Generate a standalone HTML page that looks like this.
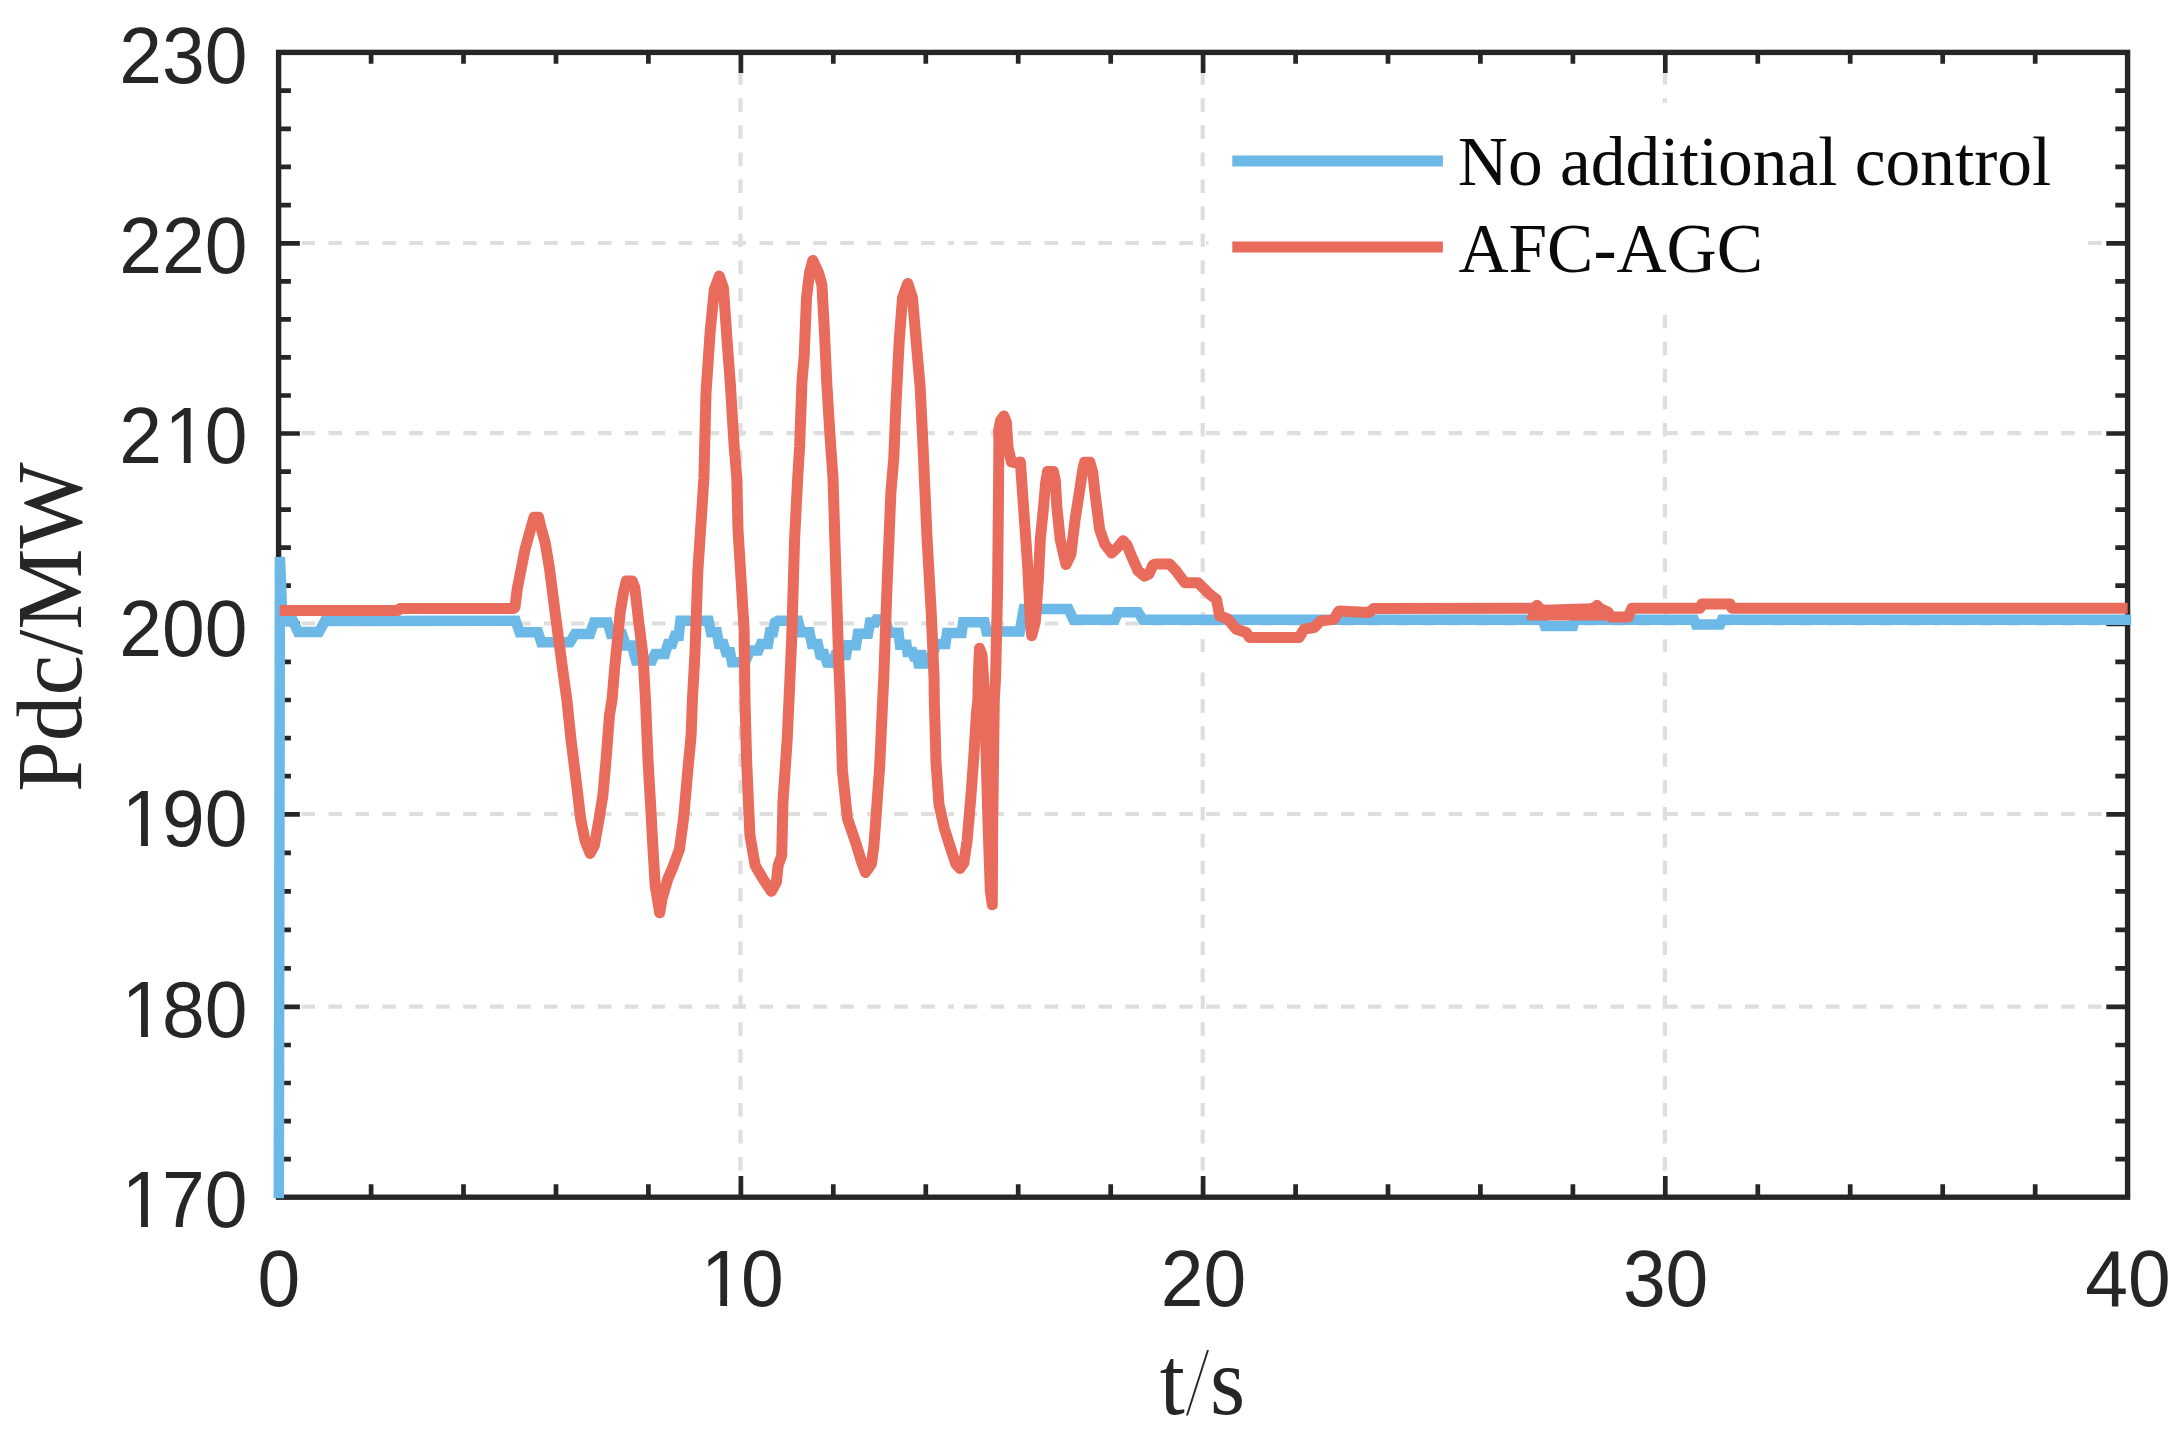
<!DOCTYPE html>
<html lang="en"><head><meta charset="utf-8"><title>Pdc/MW vs t/s</title>
<style>
html,body{margin:0;padding:0;background:#fff;}
body{width:2176px;height:1431px;overflow:hidden;}
svg{display:block;}
.tick{font-family:"Liberation Sans",Arial,Helvetica,sans-serif;font-size:76.8px;fill:#262626;}
.lab{font-family:"Liberation Serif","Times New Roman",Times,serif;font-size:93.6px;fill:#262626;}
.leg{font-family:"Liberation Serif","Times New Roman",Times,serif;font-size:69.4px;fill:#0a0a0a;}
</style></head><body>
<svg width="2176" height="1431" viewBox="0 0 2176 1431">
<defs><clipPath id="plot"><rect x="278.6" y="52.4" width="1849.0" height="1147.3999999999999"/></clipPath></defs>
<rect width="2176" height="1431" fill="#fff"/>

<g stroke="#dedede" stroke-width="4.2" fill="none" stroke-dasharray="13.5 13.44">
<path d="M278.6 1006.6H954" stroke-dashoffset="4.0"/><path d="M963.8 1006.6H1940.9"/><path d="M1953.4 1006.6H2127.6"/>
<path d="M278.6 814.0H954" stroke-dashoffset="4.0"/><path d="M963.8 814.0H1940.9"/><path d="M1953.4 814.0H2127.6"/>
<path d="M278.6 623.5H954" stroke-dashoffset="4.0"/><path d="M963.8 623.5H1940.9"/><path d="M1953.4 623.5H2127.6"/>
<path d="M278.6 433.2H954" stroke-dashoffset="4.0"/><path d="M963.8 433.2H1940.9"/><path d="M1953.4 433.2H2127.6"/>
<path d="M278.6 243.0H954" stroke-dashoffset="4.0"/><path d="M963.8 243.0H1940.9"/><path d="M1953.4 243.0H2127.6"/>
<path d="M740.5 52.4V652" stroke-dasharray="13.5 13.55" stroke-dashoffset="8.2"/><path d="M740.5 672.4V1197" stroke-dasharray="13.5 13.42"/>
<path d="M1202.7 52.4V652" stroke-dasharray="13.5 13.55" stroke-dashoffset="8.2"/><path d="M1202.7 672.4V1197" stroke-dasharray="13.5 13.42"/>
<path d="M1664.9 52.4V652" stroke-dasharray="13.5 13.55" stroke-dashoffset="8.2"/><path d="M1664.9 672.4V1197" stroke-dasharray="13.5 13.42"/>
</g>
<g stroke="#262626" fill="none">
<rect x="278.6" y="52.4" width="1849.0" height="1144.8" stroke-width="5.4"/>
<path d="M371.1 1197.2v-13.0M371.1 52.4v11.3M463.5 1197.2v-13.0M463.5 52.4v11.3M556.0 1197.2v-13.0M556.0 52.4v11.3M648.4 1197.2v-13.0M648.4 52.4v11.3M740.9 1197.2v-21.2M740.9 52.4v20.5M833.3 1197.2v-13.0M833.3 52.4v11.3M925.8 1197.2v-13.0M925.8 52.4v11.3M1018.2 1197.2v-13.0M1018.2 52.4v11.3M1110.7 1197.2v-13.0M1110.7 52.4v11.3M1203.1 1197.2v-21.2M1203.1 52.4v20.5M1295.6 1197.2v-13.0M1295.6 52.4v11.3M1388.0 1197.2v-13.0M1388.0 52.4v11.3M1480.4 1197.2v-13.0M1480.4 52.4v11.3M1572.9 1197.2v-13.0M1572.9 52.4v11.3M1665.3 1197.2v-21.2M1665.3 52.4v20.5M1757.8 1197.2v-13.0M1757.8 52.4v11.3M1850.2 1197.2v-13.0M1850.2 52.4v11.3M1942.7 1197.2v-13.0M1942.7 52.4v11.3M2035.2 1197.2v-13.0M2035.2 52.4v11.3M278.6 1159.1h12.3M2127.6 1159.1h-12.3M278.6 1121.1h12.3M2127.6 1121.1h-12.3M278.6 1083.0h12.3M2127.6 1083.0h-12.3M278.6 1045.0h12.3M2127.6 1045.0h-12.3M278.6 1006.9h21.3M2127.6 1006.9h-21.3M278.6 968.4h12.3M2127.6 968.4h-12.3M278.6 929.9h12.3M2127.6 929.9h-12.3M278.6 891.3h12.3M2127.6 891.3h-12.3M278.6 852.8h12.3M2127.6 852.8h-12.3M278.6 814.3h21.3M2127.6 814.3h-21.3M278.6 776.2h12.3M2127.6 776.2h-12.3M278.6 738.1h12.3M2127.6 738.1h-12.3M278.6 700.0h12.3M2127.6 700.0h-12.3M278.6 661.9h12.3M2127.6 661.9h-12.3M278.6 623.8h21.3M2127.6 623.8h-21.3M278.6 585.7h12.3M2127.6 585.7h-12.3M278.6 547.7h12.3M2127.6 547.7h-12.3M278.6 509.6h12.3M2127.6 509.6h-12.3M278.6 471.6h12.3M2127.6 471.6h-12.3M278.6 433.5h21.3M2127.6 433.5h-21.3M278.6 395.5h12.3M2127.6 395.5h-12.3M278.6 357.4h12.3M2127.6 357.4h-12.3M278.6 319.4h12.3M2127.6 319.4h-12.3M278.6 281.3h12.3M2127.6 281.3h-12.3M278.6 243.3h21.3M2127.6 243.3h-21.3M278.6 205.1h12.3M2127.6 205.1h-12.3M278.6 166.9h12.3M2127.6 166.9h-12.3M278.6 128.8h12.3M2127.6 128.8h-12.3M278.6 90.6h12.3M2127.6 90.6h-12.3" stroke-width="4.7"/>
</g>
<polyline points="278.8,1198.2 279.9,557.0 281.3,590.0 282.3,621.0 293.0,621.0 298.0,632.0 319.0,632.0 325.0,621.0 515.6,620.8 519.7,632.3 538.0,632.3 541.3,642.3 570.0,642.3 575.0,634.0 590.0,634.0 594.0,622.4 607.5,622.4 611.0,634.0 622.0,634.0 626.0,645.6 632.0,645.6 636.0,660.5 652.0,660.5 655.0,653.9 665.0,653.9 668.0,644.0 672.0,644.0 675.0,635.7 678.7,635.7 680.4,620.8 708.5,620.8 711.0,632.3 716.8,632.3 719.0,644.0 723.4,644.0 726.0,652.2 730.0,652.2 732.0,662.2 745.0,662.2 750.0,650.6 758.2,650.6 761.0,644.0 768.0,644.0 770.0,632.3 773.0,632.3 775.0,622.4 778.0,620.8 798.0,620.8 801.0,632.3 809.5,632.3 812.0,644.0 817.8,644.0 820.0,653.9 824.0,653.9 827.0,662.6 833.0,663.0 835.5,655.0 846.0,655.0 848.0,645.3 856.0,645.3 858.0,633.7 868.0,633.7 870.0,622.6 875.2,622.6 876.6,619.6 883.0,619.6 886.0,622.0 889.0,632.7 898.5,632.7 900.0,644.8 906.5,644.8 907.5,651.9 912.5,651.9 914.0,656.5 917.0,656.5 918.5,663.4 927.5,663.4 930.0,657.0 933.0,654.0 936.3,644.1 945.4,644.1 947.0,633.0 961.6,633.0 963.2,622.2 984.5,622.2 986.5,631.4 1019.8,631.4 1023.7,608.9 1068.4,608.9 1073.4,619.7 1114.8,619.7 1118.1,612.2 1138.0,612.2 1143.0,619.7 1543.0,619.7 1545.0,626.0 1573.0,626.0 1575.0,619.7 1694.0,619.7 1696.0,624.5 1720.0,624.5 1722.0,619.7 2131.2,619.7" stroke="#6cb8e6" stroke-width="10.5" stroke-linejoin="miter" stroke-miterlimit="3" fill="none"/>
<path d="M915 655H926.5M817.5 655H826" stroke="#6cb8e6" stroke-width="10.5"/>
<g clip-path="url(#plot)" fill="none" stroke-linejoin="round" stroke-linecap="butt">
<polyline points="279.6,610.5 398.0,610.5 400.0,608.4 514.0,608.4 515.0,607.0 517.3,588.5 525.0,549.5 531.5,526.0 534.0,517.3 538.6,517.3 540.3,525.0 545.4,543.8 549.5,568.6 556.2,620.8 562.8,670.4 566.9,700.0 571.1,740.6 575.7,777.0 580.7,819.2 585.1,840.8 590.1,853.5 594.3,845.7 598.9,820.0 602.9,795.2 606.2,758.0 609.5,714.9 612.0,700.0 615.0,664.6 620.4,610.8 623.8,591.0 626.3,581.0 632.3,581.0 634.8,587.6 638.6,620.8 643.1,656.4 645.5,700.0 648.1,762.1 650.6,805.1 653.0,849.0 655.2,885.5 659.7,912.8 662.1,898.7 667.9,878.8 672.9,867.2 679.5,849.0 683.7,817.6 687.8,770.4 691.1,735.6 692.4,700.0 694.9,654.7 697.8,571.9 702.2,504.8 703.9,478.0 706.0,393.2 710.2,331.1 714.3,289.7 719.3,276.1 723.4,288.0 727.6,347.6 730.4,384.9 734.2,447.0 736.8,478.0 738.0,529.7 744.1,629.0 745.0,700.0 746.6,760.4 749.9,835.0 755.2,865.6 764.0,880.5 771.4,891.3 776.4,882.1 778.1,865.6 781.7,855.7 783.0,801.0 787.2,739.7 789.0,700.0 791.6,641.4 794.6,538.8 797.7,478.0 799.6,447.0 802.0,380.7 804.2,355.9 806.5,298.0 809.5,273.0 812.8,260.4 818.6,273.0 821.9,284.7 824.4,331.0 826.9,384.9 830.2,438.7 833.0,478.0 835.5,560.0 839.0,670.0 840.3,700.0 842.4,770.4 847.4,818.4 854.8,839.9 861.5,861.5 865.6,872.5 871.4,863.9 873.9,845.7 875.5,824.2 879.7,766.2 882.7,700.0 883.8,677.0 887.1,584.9 890.9,492.2 893.8,458.0 895.9,405.6 899.2,341.0 902.5,298.0 907.8,283.5 912.5,298.0 915.3,331.1 920.2,387.4 923.0,446.0 926.9,535.2 931.3,613.9 934.0,677.0 934.3,700.0 936.0,762.1 939.0,804.3 944.3,828.3 950.9,849.0 955.8,863.9 960.0,868.4 963.8,863.1 967.1,840.8 970.8,797.7 973.7,758.0 976.5,712.4 977.9,700.0 978.3,677.0 979.5,648.3 982.0,655.0 983.5,677.0 985.3,724.8 987.8,815.9 990.3,890.4 992.3,904.8 992.6,832.5 994.3,700.0 995.6,677.0 997.6,589.0 998.6,481.4 998.9,440.0 998.6,430.4 1000.6,420.5 1003.9,416.0 1006.4,422.1 1008.0,447.0 1011.3,461.9 1016.0,463.0 1020.4,462.0 1023.7,509.5 1027.9,569.2 1030.4,622.2 1031.7,635.7 1035.3,622.2 1038.3,580.8 1040.3,539.4 1043.6,506.2 1045.6,483.0 1047.6,471.5 1053.4,471.5 1055.4,481.0 1056.8,506.2 1060.2,539.4 1066.0,564.5 1070.9,554.3 1075.1,519.5 1080.0,488.0 1082.6,470.5 1084.5,462.3 1090.0,462.3 1092.8,473.1 1095.0,493.0 1099.6,529.4 1104.9,544.3 1111.5,553.0 1117.0,548.0 1123.1,540.7 1127.0,545.0 1131.4,555.9 1138.0,570.8 1144.6,576.1 1149.0,574.0 1153.0,565.0 1156.0,563.9 1169.4,563.9 1176.0,570.8 1180.0,576.2 1185.0,582.8 1198.2,582.8 1203.2,587.8 1209.8,594.4 1216.4,599.4 1219.7,615.9 1228.0,619.2 1236.3,629.2 1246.2,632.5 1249.5,637.4 1299.2,637.4 1304.2,629.2 1314.1,627.5 1320.8,620.9 1334.0,619.2 1339.0,610.9 1368.8,612.6 1373.7,608.5 1527.0,608.3 1534.0,608.3 1537.0,605.3 1540.0,608.8 1544.0,610.2 1590.0,608.8 1594.0,608.3 1597.0,605.3 1600.0,608.5 1608.0,612.0 1611.0,617.0 1628.0,617.0 1632.0,608.2 1700.0,608.2 1702.0,604.0 1730.0,604.0 1732.0,608.2 2128.0,608.2" stroke="#e96b5b" stroke-width="11"/>
<path d="M1528.5 613.6L1531 615H1607" stroke="#e96b5b" stroke-width="11"/>
</g>
<g transform="translate(0 1226.8) scale(1 1.03)"><text class="tick" x="121.8 162.0 204.7" y="0">170</text></g>
<rect x="126.39" y="1219.7" width="14.69" height="8.3" fill="#fff"/>
<rect x="147.91" y="1219.7" width="14.1" height="8.3" fill="#fff"/>
<g transform="translate(0 1036.6) scale(1 1.03)"><text class="tick" x="121.8 162.0 204.7" y="0">180</text></g>
<rect x="126.39" y="1029.5" width="14.69" height="8.3" fill="#fff"/>
<rect x="147.91" y="1029.5" width="14.1" height="8.3" fill="#fff"/>
<g transform="translate(0 846.2) scale(1 1.03)"><text class="tick" x="121.8 162.0 204.7" y="0">190</text></g>
<rect x="126.39" y="839.1" width="14.69" height="8.3" fill="#fff"/>
<rect x="147.91" y="839.1" width="14.1" height="8.3" fill="#fff"/>
<g transform="translate(0 655.5) scale(1 1.03)"><text class="tick" x="119.3 162.0 204.7" y="0">200</text></g>
<g transform="translate(0 462.9) scale(1 1.03)"><text class="tick" x="119.3 164.5 204.7" y="0">210</text></g>
<rect x="169.10" y="455.8" width="14.69" height="8.3" fill="#fff"/>
<rect x="190.63" y="455.8" width="14.1" height="8.3" fill="#fff"/>
<g transform="translate(0 273.2) scale(1 1.03)"><text class="tick" x="119.3 162.0 204.7" y="0">220</text></g>
<g transform="translate(0 82.8) scale(1 1.03)"><text class="tick" x="119.3 162.0 204.7" y="0">230</text></g>
<g transform="translate(0 1305.8) scale(1 1.03)"><text class="tick" x="257.5" y="0">0</text></g>
<g transform="translate(0 1305.8) scale(1 1.03)"><text class="tick" x="700.9 741.1" y="0">10</text></g>
<rect x="705.56" y="1298.7" width="14.69" height="8.3" fill="#fff"/>
<rect x="727.09" y="1298.7" width="14.1" height="8.3" fill="#fff"/>
<g transform="translate(0 1305.8) scale(1 1.03)"><text class="tick" x="1160.7 1203.4" y="0">20</text></g>
<g transform="translate(0 1305.8) scale(1 1.03)"><text class="tick" x="1622.9 1665.6" y="0">30</text></g>
<g transform="translate(0 1305.8) scale(1 1.03)"><text class="tick" x="2085.2 2127.9" y="0">40</text></g>
<g transform="translate(1202.5 1414) scale(0.965 1.03)"><text class="lab" text-anchor="middle">t/s</text><polygon points="-19.17,1.83 -17.27,1.83 4.82,-62.61 2.92,-62.61" fill="#fff"/><polygon points="-15.21,1.83 -13.32,1.83 8.77,-62.61 6.87,-62.61" fill="#fff"/></g>
<text class="lab" transform="translate(80.8 627.2) rotate(-90) scale(0.975 1)" text-anchor="middle">Pdc/MW</text>
<rect x="1208.5" y="103" width="871.5" height="207" fill="#fff"/>
<path d="M1232.3 160.9H1442.9" stroke="#6cb8e6" stroke-width="11"/>
<path d="M1232.3 246.9H1442.9" stroke="#e96b5b" stroke-width="11"/>
<text class="leg" x="1457.8" y="185">No additional control</text>
<text class="leg" x="1458.4" y="272.2">AFC-AGC</text>
</svg></body></html>
